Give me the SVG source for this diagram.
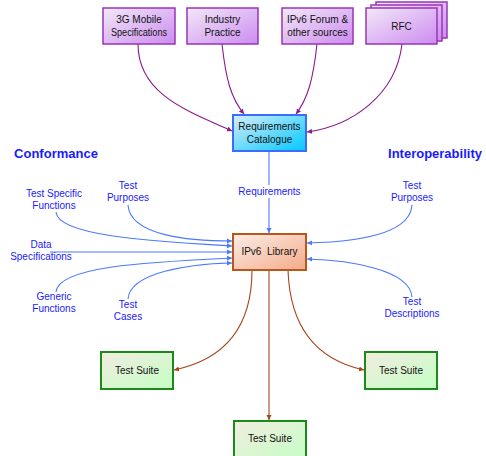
<svg xmlns="http://www.w3.org/2000/svg" width="486" height="456" viewBox="0 0 486 456">
<style>
text{font-family:"Liberation Sans",Arial,sans-serif;font-size:10px;text-anchor:middle}
.bx{fill:#111}
.lb{fill:#1a1aff}
.hd{fill:#1a1aff;font-weight:bold;font-size:13px}
.pu{fill:url(#gp);stroke:#9a35b5;stroke-width:1.5}
.pc{fill:none;stroke:#8a1a8a;stroke-width:1.1;marker-end:url(#ap)}
.bl{fill:none;stroke:#4a78ff;stroke-width:1.1;marker-end:url(#ab)}
.br{fill:none;stroke:#a8441a;stroke-width:1.1;marker-end:url(#ar)}
.ts{fill:url(#gg);stroke:#1a8a1a;stroke-width:2}
</style>
<defs>
<linearGradient id="gp" x1="0" y1="0" x2="1" y2="1"><stop offset="0" stop-color="#f2e8f8"/><stop offset="1" stop-color="#cc8cf0"/></linearGradient>
<linearGradient id="gc" x1="0" y1="0" x2="1" y2="1"><stop offset="0" stop-color="#d8eef8"/><stop offset="1" stop-color="#00c8ff"/></linearGradient>
<linearGradient id="go" x1="0" y1="0" x2="1" y2="1"><stop offset="0" stop-color="#fbeee8"/><stop offset="1" stop-color="#f4aa88"/></linearGradient>
<linearGradient id="gg" x1="0" y1="0" x2="1" y2="1"><stop offset="0" stop-color="#f2ece0"/><stop offset="1" stop-color="#c4ffc4"/></linearGradient>
<marker id="ap" markerWidth="6" markerHeight="6" refX="5" refY="3" orient="auto" markerUnits="userSpaceOnUse"><path d="M0,0.5 L5,3 L0,5.5 z" fill="#8a1a8a"/></marker>
<marker id="ab" markerWidth="6" markerHeight="6" refX="5" refY="3" orient="auto" markerUnits="userSpaceOnUse"><path d="M0,0.5 L5,3 L0,5.5 z" fill="#4a78ff"/></marker>
<marker id="ar" markerWidth="6" markerHeight="6" refX="5" refY="3" orient="auto" markerUnits="userSpaceOnUse"><path d="M0,0.5 L5,3 L0,5.5 z" fill="#a8441a"/></marker>
</defs>

<g id="connectors">
<path class="pc" d="M138,44 C138,95 190,112 232,131"/>
<path class="pc" d="M222,44 C226,80 231,98 244,114"/>
<path class="pc" d="M317,44 C313,80 308,98 296,114"/>
<path class="pc" d="M402,44 C396,95 352,126 307,132"/>
<path class="bl" d="M269,151 L269,233"/>
<path class="bl" d="M128,205 C130,236 190,241 232,241"/>
<path class="bl" d="M56,212 C58,236 150,241 232,246"/>
<path class="bl" d="M50,252 L232,252"/>
<path class="bl" d="M56,292 C58,266 150,262 232,258"/>
<path class="bl" d="M128,299 C130,272 190,264 232,263"/>
<path class="bl" d="M412,205 C410,236 350,242 307,243"/>
<path class="bl" d="M412,297 C410,270 350,260 307,259"/>
<path class="br" d="M252,270 C252,330 222,360 174,370"/>
<path fill="none" stroke="#c08068" stroke-width="1.6" marker-end="url(#ar)" d="M269,270 L269,420"/>
<path class="br" d="M288,270 C290,330 318,360 364,370"/>
</g>

<g id="n-3g"><rect class="pu" x="103" y="8" width="72" height="36"/><text class="bx" x="139" y="23">3G Mobile</text><text class="bx" x="139" y="36" textLength="56" lengthAdjust="spacingAndGlyphs">Specifications</text></g>
<g id="n-industry"><rect class="pu" x="187" y="8" width="71" height="36"/><text class="bx" x="222.5" y="23">Industry</text><text class="bx" x="222.5" y="36">Practice</text></g>
<g id="n-ipv6forum"><rect class="pu" x="282" y="8" width="71" height="36"/><text class="bx" x="317.5" y="23">IPv6 Forum &amp;</text><text class="bx" x="317.5" y="36">other sources</text></g>
<g id="n-rfc"><rect class="pu" x="376" y="2" width="71" height="36"/><rect class="pu" x="371" y="5" width="71" height="36"/><rect class="pu" x="366" y="8" width="71" height="36"/><text class="bx" x="401.5" y="30">RFC</text></g>

<g id="n-reqcat"><rect x="233" y="115" width="73" height="36" fill="url(#gc)" stroke="#3a6cff" stroke-width="2"/><text class="bx" x="269.5" y="130">Requirements</text><text class="bx" x="269.5" y="143">Catalogue</text></g>

<g id="n-library"><rect x="233" y="234" width="73" height="36" fill="url(#go)" stroke="#b8561b" stroke-width="2"/><text class="bx" x="269.5" y="255" xml:space="preserve">IPv6  Library</text></g>

<g id="n-ts-left"><rect class="ts" x="101" y="352" width="72" height="37"/><text class="bx" x="137" y="374">Test Suite</text></g>
<g id="n-ts-right"><rect class="ts" x="365" y="352" width="72" height="37"/><text class="bx" x="401" y="374">Test Suite</text></g>
<g id="n-ts-bottom"><rect class="ts" x="234" y="421" width="72" height="40"/><text class="bx" x="270" y="442">Test Suite</text></g>

<g id="labels">
<text class="hd" x="56" y="158">Conformance</text>
<text class="hd" x="435" y="158">Interoperability</text>
<rect x="236" y="185" width="66" height="13" fill="#fff"/>
<text class="lb" x="269.5" y="195">Requirements</text>
<text class="lb" x="54" y="197">Test Specific</text><text class="lb" x="54" y="209">Functions</text>
<text class="lb" x="128" y="189">Test</text><text class="lb" x="128" y="201">Purposes</text>
<text class="lb" x="41" y="248">Data</text><text class="lb" x="41" y="260">Specifications</text>
<text class="lb" x="54" y="300">Generic</text><text class="lb" x="54" y="312">Functions</text>
<text class="lb" x="128" y="308">Test</text><text class="lb" x="128" y="320">Cases</text>
<text class="lb" x="412" y="189">Test</text><text class="lb" x="412" y="201">Purposes</text>
<text class="lb" x="412" y="305">Test</text><text class="lb" x="412" y="317">Descriptions</text>
</g>
</svg>
